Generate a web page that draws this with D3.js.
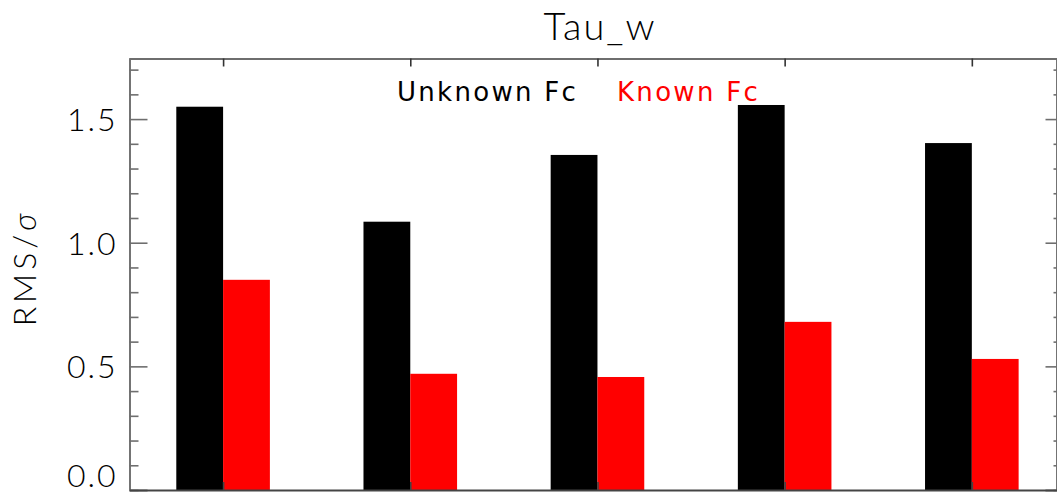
<!DOCTYPE html>
<html>
<head>
<meta charset="utf-8">
<script src="https://cdn.jsdelivr.net/npm/d3@7"></script>
<style>
  html, body { margin: 0; padding: 0; background: #fff; }
  svg { display: block; }
  text { font-family: "DejaVu Sans", "Liberation Sans", sans-serif; }
  .thin { font-family: Lato, "DejaVu Sans", sans-serif; font-weight: 300; }
</style>
</head>
<body>
<script>
// Bar values: RMS/sigma per case, with Fc fitted (unknown) or fixed (known)
const categories = [0, 1, 2, 3, 4];
const unknownFc = [1.55, 1.085, 1.355, 1.557, 1.403];
const knownFc = [0.85, 0.47, 0.457, 0.68, 0.53];
const seriesNames = ["Unknown Fc", "Known Fc"];
const seriesColors = ["#000000", "#ff0000"];
const majorTicks = [0.0, 0.5, 1.0, 1.5];
const minorTicks = d3.range(0, 17.5).map(d => d / 10);
const title = "Tau_w";
const yLabel = "RMS/σ";

const W = 1057, H = 495;
const svg = d3.select("body").append("svg").attr("width", W).attr("height", H);

const x = d3.scaleLinear().domain([-0.5, 4.455]).range([129.5, 1057]);
const y = d3.scaleLinear().domain([0, 1.745]).range([490, 58.5]);
const barW = 0.25;
const frame = "#6e6e6e";
const isMinor = v => !majorTicks.some(m => Math.abs(m - v) < 1e-9);

// bars
const series = [unknownFc, knownFc];
series.forEach((vals, s) => {
  svg.append("g").selectAll("rect").data(categories).join("rect")
    .attr("x", i => x(s === 0 ? i - barW : i))
    .attr("width", x(barW) - x(0))
    .attr("y", i => y(vals[i]))
    .attr("height", i => y(0) - y(vals[i]))
    .attr("fill", seriesColors[s]);
});

// left axis: major ticks with labels, minor ticks every 0.1
const leftAxis = svg.append("g").attr("transform", "translate(129.5,0)");
leftAxis.call(d3.axisRight(y).tickValues(majorTicks).tickSize(18).tickFormat(d3.format(".1f")));
leftAxis.append("g").call(d3.axisRight(y).tickValues(minorTicks.filter(isMinor)).tickSize(9).tickFormat(""));
leftAxis.selectAll(".domain").attr("stroke", frame).attr("stroke-width", 1.6);
leftAxis.selectAll(".tick line").attr("stroke", frame).attr("stroke-width", 1.6);
leftAxis.selectAll(".tick text")
  .attr("class", "thin")
  .attr("x", -12).attr("text-anchor", "end")
  // the lowest label sits just above the bottom edge
  .attr("dy", d => d === 0 ? "-0.12em" : "0.36em")
  .attr("fill", "#000").attr("font-size", 32)
  .attr("letter-spacing", 2);

// right axis mirrors the left ticks, no labels
const rightAxis = svg.append("g").attr("transform", "translate(1056.5,0)");
rightAxis.call(d3.axisLeft(y).tickValues(majorTicks).tickSize(11).tickFormat(""));
rightAxis.append("g").call(d3.axisLeft(y).tickValues(minorTicks.filter(isMinor)).tickSize(3).tickFormat(""));
rightAxis.selectAll(".domain").attr("stroke", frame).attr("stroke-width", 1.6);
rightAxis.selectAll(".tick line").attr("stroke", frame).attr("stroke-width", 1.6);

// top axis with ticks at category centres
const topAxis = svg.append("g").attr("transform", "translate(0,58.5)");
topAxis.call(d3.axisBottom(x).tickValues(categories).tickSize(8).tickFormat("").tickSizeOuter(0));
topAxis.selectAll(".domain").attr("stroke", frame).attr("stroke-width", 2);
topAxis.selectAll(".tick line").attr("stroke", "#333").attr("stroke-width", 1.6);

// bottom axis
const bottomAxis = svg.append("g").attr("transform", "translate(0,490)");
bottomAxis.call(d3.axisTop(x).tickValues(categories).tickSize(8).tickFormat("").tickSizeOuter(0));
bottomAxis.selectAll(".domain").attr("stroke", "#444").attr("stroke-width", 2);
bottomAxis.selectAll(".tick line").attr("stroke", "#444").attr("stroke-width", 1.6);

// title
svg.append("text").attr("class", "thin").attr("x", 600).attr("y", 40).attr("text-anchor", "middle")
  .attr("font-size", 38).attr("letter-spacing", 2)
  .attr("fill", "#000").text(title);

// legend
const legendX = [397, 617];
seriesNames.forEach((name, s) => {
  svg.append("text").attr("x", legendX[s]).attr("y", 101)
    .attr("font-size", 26).attr("letter-spacing", 2.3)
    .attr("fill", seriesColors[s]).text(name);
});

// y-axis title
svg.append("text").attr("class", "thin").attr("transform", "translate(36,268) rotate(-90)")
  .attr("text-anchor", "middle").attr("font-size", 32)
  .attr("letter-spacing", 4).attr("fill", "#000")
  .selectAll("tspan").data([[yLabel.slice(0, -1), "normal"], [yLabel.slice(-1), "italic"]]).join("tspan")
  .attr("font-style", d => d[1]).text(d => d[0]);
</script>
</body>
</html>
